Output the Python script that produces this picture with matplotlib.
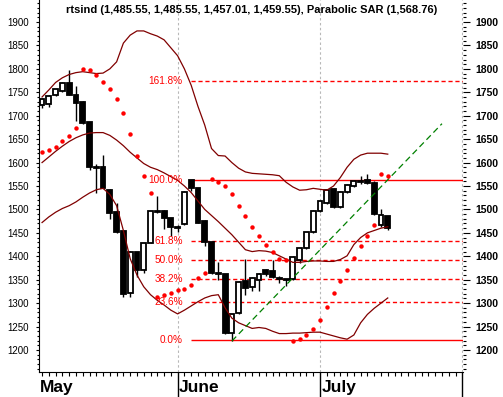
import matplotlib
matplotlib.use("Agg")
import matplotlib.pyplot as plt
from matplotlib.ticker import FixedLocator, MultipleLocator, NullFormatter

plt.rcParams['font.family'] = ['Liberation Sans', 'DejaVu Sans']

# daily OHLC, day 0 = first session shown (May)
opens = [1722, 1724, 1745, 1752, 1770, 1745, 1730, 1686, 1591, 1590,
         1541, 1495, 1453, 1321, 1409, 1370, 1429, 1497, 1497, 1481,
         1462, 1469, 1563, 1545, 1475, 1430, 1365, 1362, 1236, 1278,
         1348, 1334, 1349, 1371, 1368, 1354, 1351, 1351, 1392, 1417,
         1451, 1497, 1513, 1543, 1505, 1538, 1550, 1560, 1563, 1557,
         1466, 1485.55]
highs = [1738, 1745, 1758, 1772, 1797, 1763, 1731, 1687, 1597, 1617,
         1543, 1514, 1454, 1411, 1410, 1429, 1497, 1528, 1499, 1482,
         1467, 1540, 1563, 1546, 1477, 1431, 1387, 1363, 1277, 1348,
         1394, 1355, 1365, 1373, 1393, 1358, 1352, 1400, 1418, 1452,
         1498, 1519, 1543, 1545, 1540, 1555, 1563, 1572, 1576, 1560,
         1500, 1485.55]
lows = [1717, 1718, 1743, 1750, 1744, 1688, 1683, 1585, 1535, 1545,
        1479, 1450, 1314, 1313, 1356, 1364, 1428, 1493, 1458, 1443,
        1451, 1467, 1540, 1470, 1422, 1362, 1350, 1235, 1219, 1276,
        1318, 1325, 1325, 1358, 1353, 1343, 1337, 1349, 1385, 1415,
        1450, 1495, 1511, 1503, 1503, 1536, 1548, 1555, 1555, 1488,
        1462, 1457.01]
closes = [1736, 1742, 1757, 1770, 1745, 1728, 1684, 1590, 1589, 1546,
          1493, 1452, 1320, 1410, 1371, 1428, 1496, 1495, 1481, 1463,
          1460, 1538, 1545, 1472, 1431, 1364, 1362, 1236, 1276, 1346,
          1333, 1353, 1363, 1362, 1355, 1352, 1349, 1398, 1417, 1451,
          1497, 1517, 1541, 1505, 1538, 1553, 1561, 1558, 1557, 1490,
          1488, 1459.55]

# parabolic SAR
sar = [1623, 1627, 1634, 1645, 1657, 1673, 1799, 1798, 1787, 1773,
       1758, 1736, 1706, 1661, 1613, 1571, 1534, 1314, 1318, 1322,
       1327, 1331, 1339, 1353, 1365, 1564, 1558, 1551, 1532, 1507,
       1485, 1462, 1443, 1425, 1410, 1394, 1393, 1220, 1223, 1232,
       1245, 1265, 1291, 1321, 1347, 1371, 1396, 1421, 1443, 1467,
       1575, 1571]

# bollinger bands
bb_upper = [1740, 1755, 1771, 1781, 1788, 1792, 1794, 1792, 1790, 1791,
            1800, 1815, 1855, 1872, 1881, 1881, 1875, 1870, 1862, 1845,
            1828, 1800, 1765, 1720, 1680, 1630, 1615, 1614, 1600, 1588,
            1580, 1577, 1576, 1575, 1574, 1572, 1558, 1548, 1541, 1542,
            1545, 1543, 1541, 1550, 1568, 1590, 1607, 1616, 1620, 1620,
            1620, 1618]
bb_mid = [1600, 1612, 1624, 1635, 1645, 1653, 1659, 1663, 1664, 1664,
          1658, 1648, 1636, 1622, 1610, 1598, 1590, 1585, 1578, 1570,
          1562, 1550, 1536, 1518, 1500, 1487, 1474, 1460, 1446, 1430,
          1414, 1410, 1412, 1411, 1408, 1401, 1394, 1387, 1387, 1389,
          1390, 1390, 1389, 1389, 1393, 1401, 1425, 1440, 1450, 1455,
          1460, 1463]
bb_lower = [1472, 1484, 1494, 1502, 1508, 1516, 1526, 1535, 1542, 1545,
            1532, 1508, 1455, 1395, 1360, 1335, 1318, 1306, 1296, 1285,
            1277, 1285, 1294, 1303, 1311, 1316, 1318, 1290, 1268, 1258,
            1252, 1246, 1248, 1246, 1240, 1235, 1235, 1236, 1236, 1237,
            1238, 1238, 1234, 1230, 1226, 1223, 1232, 1258, 1276, 1289,
            1300, 1311]

fib_levels = [0.0, 23.6, 38.2, 50.0, 61.8, 100.0, 161.8]
fib_low = 1221
fib_high = 1563
fib_start = 22

trend_days = [28, 59]
trend_vals = [1219, 1683]

month_names = ['May', 'June', 'July']
month_starts = [20, 41, 62]

title = "rtsind (1,485.55, 1,485.55, 1,457.01, 1,459.55), Parabolic SAR (1,568.76)"

W, H = 503, 397
fig = plt.figure(figsize=(W / 100, H / 100), dpi=100)
ax = fig.add_axes([39 / W, 25 / H, 424 / W, 372 / H])
ax.set_xlim(-0.45, 62.1)
ax.set_ylim(1153, 1947)

# month separators
for d in month_starts:
    ax.axvline(d, color='#b8b8b8', lw=0.8, ls=(0, (2.2, 2.2)), zorder=0.5)

# fibonacci retracement
rng = fib_high - fib_low
for lvl in fib_levels:
    price = fib_low + rng * lvl / 100
    solid = lvl in (0.0, 100.0)
    ax.hlines(price, fib_start, 62.1, color='red', lw=1.0,
              ls='-' if solid else (0, (3, 2)), zorder=1)
    ax.text(20.75, price, f"{lvl:.1f}%", color='red', fontsize=7.2,
            ha='right', va='center', zorder=6)

# candles
days = list(range(len(closes)))
for d, o, h, l, c in zip(days, opens, highs, lows, closes):
    up = c >= o
    ax.vlines(d, l, h, color='black', lw=1.0, zorder=2)
    ax.bar(d, max(abs(c - o), 0.01), bottom=min(o, c), width=0.72,
           color='white' if up else 'black', edgecolor='black',
           linewidth=1.3, zorder=3)

# bands
for band in (bb_upper, bb_mid, bb_lower):
    ax.plot(days, band, color='#800000', lw=0.9, zorder=4)

ax.plot(trend_days, trend_vals, color='#008000', lw=0.9,
        ls=(0, (5, 3)), zorder=4)

ax.plot(days, sar, 'o', color='red', markersize=3.2, markeredgewidth=0,
        zorder=5)

ax.text(0.502, 1 - 10 / 372, title, transform=ax.transAxes, ha='center',
        va='center', fontsize=8, fontweight='bold', zorder=7)

# axes styling
for s in ('top', 'right'):
    ax.spines[s].set_visible(False)
ax.xaxis.set_major_locator(FixedLocator(month_starts))
ax.xaxis.set_minor_locator(FixedLocator(range(0, 62)))
ax.xaxis.set_major_formatter(NullFormatter())
ax.tick_params(axis='x', which='major', length=18, width=1.0)
ax.tick_params(axis='x', which='minor', length=3, width=0.8)

ax.yaxis.set_major_locator(MultipleLocator(50))
ax.yaxis.set_minor_locator(MultipleLocator(10))
ax.tick_params(axis='y', which='major', length=2, width=0.8, pad=5,
               labelsize=7)
ax.tick_params(axis='y', which='minor', length=1.5, width=0.8)

ax2 = ax.twinx()
ax2.set_ylim(ax.get_ylim())
for s in ('top', 'right', 'left', 'bottom'):
    ax2.spines[s].set_visible(False)
ax2.yaxis.set_major_locator(MultipleLocator(50))
ax2.yaxis.set_minor_locator(MultipleLocator(10))
ax2.tick_params(axis='y', which='major', length=5, width=0.8, pad=4,
                labelsize=7.5)
ax2.tick_params(axis='y', which='minor', length=2.5, width=0.8)
for t in ax2.get_yticklabels():
    t.set_fontweight('bold')

label_days = [-0.3] + [d + 0.2 for d in month_starts[:2]]
for name, d in zip(month_names, label_days):
    ax.text(d, -(392 - 372) / 372, name, transform=ax.get_xaxis_transform(),
            ha='left', va='baseline', fontsize=12.5, fontweight='bold')

fig.savefig('out.png', dpi=100)
